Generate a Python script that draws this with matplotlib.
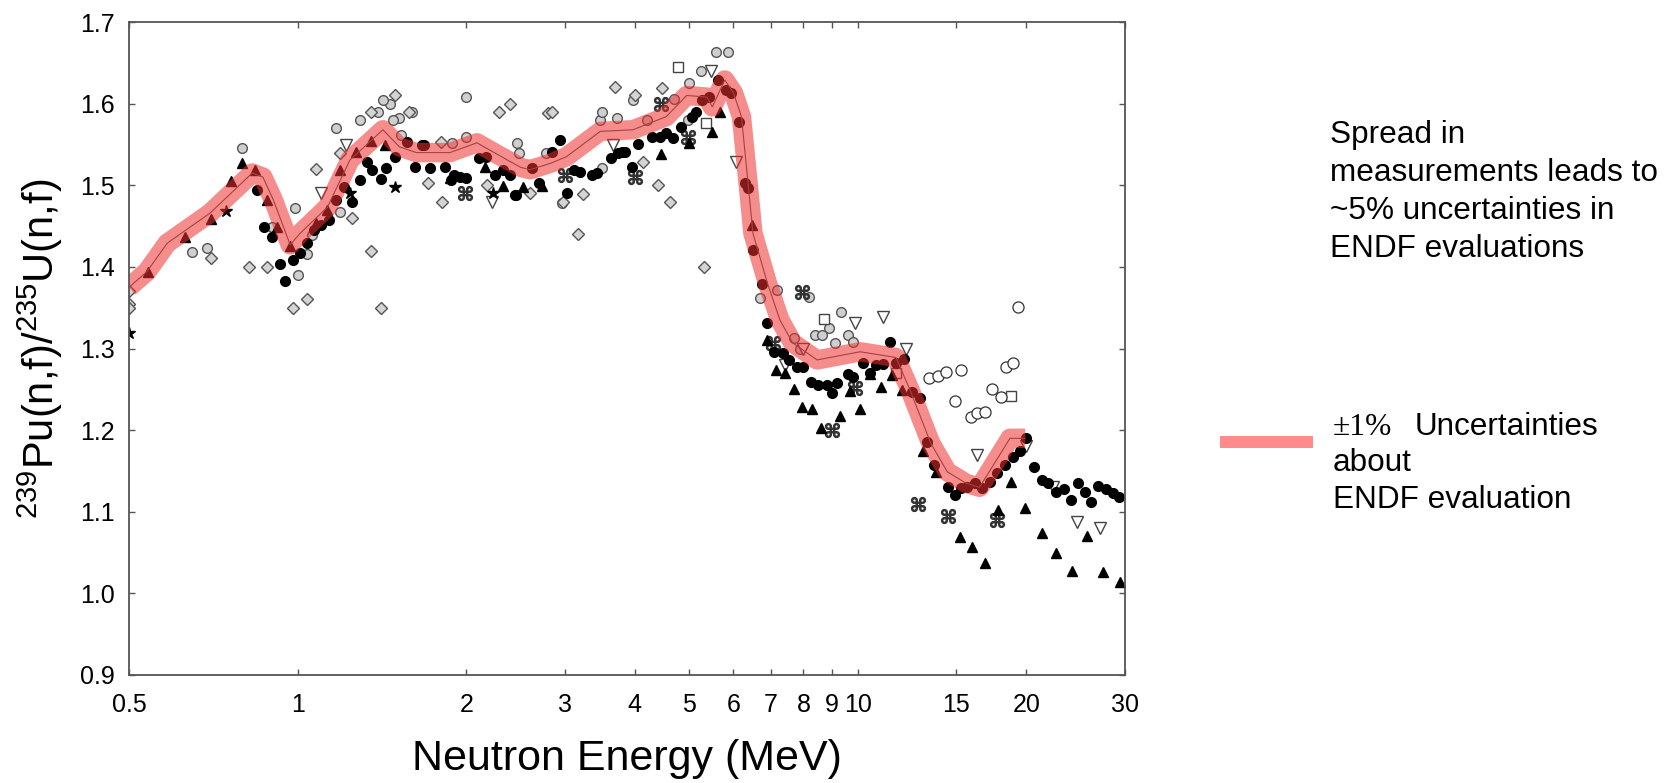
# Pu-239 / U-235 fission cross section ratio vs neutron energy, with ENDF band

import matplotlib
matplotlib.use("Agg")
import matplotlib.pyplot as plt
from matplotlib.lines import Line2D

plt.rcParams['font.family'] = ['Liberation Sans', 'DejaVu Sans']
plt.rcParams['mathtext.fontset'] = 'custom'
plt.rcParams['mathtext.rm'] = 'Liberation Sans'
plt.rcParams['mathtext.it'] = 'Liberation Sans:italic'

# ENDF evaluation curve (MeV, ratio)
eval_e = [0.5, 0.538, 0.585, 0.698, 0.83, 0.867, 0.905, 0.97, 1.01, 1.13, 1.24, 1.42, 1.52,
          1.63, 1.87, 2.09, 2.23, 2.5, 2.6, 2.83, 3.02, 3.47, 3.97, 4.55, 4.95, 5.38, 5.5,
          5.79, 6.0, 6.2, 6.37, 6.5, 6.9, 7.26, 7.65, 8.46, 10.1, 11.7, 12.4, 13.5, 14.45,
          15.6, 16.5, 18.7, 19.9]
eval_v = [1.375, 1.394, 1.429, 1.466, 1.515, 1.51, 1.482, 1.427, 1.441, 1.473, 1.531, 1.568,
          1.547, 1.54, 1.54, 1.552, 1.541, 1.522, 1.519, 1.527, 1.535, 1.566, 1.568, 1.584,
          1.61, 1.608, 1.596, 1.629, 1.613, 1.584, 1.503, 1.441, 1.38, 1.335, 1.307, 1.286,
          1.296, 1.289, 1.249, 1.184, 1.149, 1.135, 1.13, 1.19, 1.19]

# filled circles
circ_e = [0.846, 0.87, 0.9, 0.93, 0.95, 0.98, 1.01, 1.04, 1.07, 1.1, 1.14, 1.17, 1.21, 1.25,
          1.29, 1.33, 1.36, 1.41, 1.44, 1.49, 1.57, 1.62, 1.67, 1.68, 1.72, 1.83, 1.88, 1.9,
          1.95, 2.0, 2.11, 2.17, 2.25, 2.33, 2.39, 2.44, 2.45, 2.62, 2.7, 2.85, 2.94, 3.03,
          3.11, 3.19, 3.36, 3.43, 3.62, 3.73, 3.79, 3.84, 3.95, 4.05, 4.3, 4.43, 4.55, 4.67,
          4.84, 5.05, 5.15, 5.27, 5.42, 5.63, 5.83, 5.94, 6.13, 6.3, 6.37, 6.5, 6.74, 6.9,
          7.1, 7.35, 7.55, 7.8, 8.0, 8.25, 8.5, 8.8, 9.0, 9.2, 9.6, 9.8, 10.2, 10.5, 10.8,
          11.1, 11.4, 11.7, 12.1, 12.5, 12.9, 13.3, 13.7, 14.5, 14.9, 15.3, 15.7, 16.2, 16.7,
          17.2, 17.7, 18.3, 18.9, 19.5, 20.0, 20.6, 21.3, 21.9, 22.6, 23.3, 24.0, 24.7, 25.4,
          26.1, 26.9, 27.8, 28.5, 29.3]
circ_v = [1.494, 1.449, 1.437, 1.403, 1.383, 1.408, 1.417, 1.429, 1.445, 1.451, 1.457, 1.482,
          1.498, 1.479, 1.506, 1.528, 1.519, 1.508, 1.521, 1.535, 1.553, 1.522, 1.549, 1.549,
          1.521, 1.522, 1.506, 1.512, 1.51, 1.509, 1.533, 1.535, 1.512, 1.519, 1.512, 1.488,
          1.488, 1.521, 1.503, 1.541, 1.555, 1.49, 1.519, 1.516, 1.512, 1.515, 1.533, 1.539,
          1.541, 1.541, 1.522, 1.551, 1.559, 1.559, 1.564, 1.558, 1.571, 1.584, 1.59, 1.604,
          1.608, 1.629, 1.617, 1.613, 1.577, 1.503, 1.497, 1.421, 1.379, 1.331, 1.296, 1.294,
          1.286, 1.277, 1.277, 1.259, 1.255, 1.255, 1.245, 1.258, 1.269, 1.265, 1.282, 1.27,
          1.28, 1.281, 1.308, 1.282, 1.287, 1.247, 1.239, 1.185, 1.157, 1.13, 1.12, 1.129,
          1.13, 1.135, 1.129, 1.136, 1.147, 1.157, 1.167, 1.175, 1.19, 1.155, 1.139, 1.135,
          1.124, 1.128, 1.115, 1.135, 1.124, 1.112, 1.131, 1.128, 1.123, 1.118]

# filled triangles
tri_e = [0.54, 0.63, 0.7, 0.76, 0.794, 0.84, 0.88, 0.92, 0.97, 1.08, 1.13, 1.19, 1.27, 1.35,
         1.43, 1.87, 2.16, 2.33, 2.53, 2.73, 4.46, 4.99, 5.5, 5.67, 6.47, 6.9, 7.15, 7.4, 7.7,
         7.96, 8.3, 8.6, 9.3, 9.7, 10.1, 10.5, 11.0, 11.5, 12.0, 13.1, 13.8, 15.2, 16.0, 16.9,
         17.8, 18.8, 19.9, 21.3, 22.6, 24.1, 25.7, 27.4, 29.4]
tri_v = [1.394, 1.437, 1.459, 1.505, 1.527, 1.519, 1.482, 1.449, 1.425, 1.454, 1.47, 1.519,
         1.541, 1.554, 1.549, 1.509, 1.522, 1.499, 1.498, 1.499, 1.538, 1.552, 1.565, 1.59,
         1.451, 1.311, 1.274, 1.27, 1.25, 1.228, 1.226, 1.202, 1.217, 1.248, 1.226, 1.269,
         1.253, 1.267, 1.249, 1.175, 1.149, 1.069, 1.057, 1.037, 1.102, 1.136, 1.104, 1.074,
         1.049, 1.028, 1.07, 1.026, 1.014]

# grey patterned diamonds
dia_e = [0.5, 0.5, 0.5, 0.7, 0.82, 0.88, 0.98, 1.04, 1.08, 1.25, 1.35, 1.41, 1.19, 1.49, 1.35,
         1.58, 1.71, 1.81, 2.18, 2.29, 2.39, 2.6, 2.8, 3.16, 3.23, 3.68, 4.0, 4.48, 4.13, 4.4,
         4.62, 5.32, 1.8, 2.85, 2.98]
dia_v = [1.37, 1.355, 1.35, 1.411, 1.40, 1.40, 1.35, 1.361, 1.52, 1.46, 1.419, 1.35, 1.54,
         1.61, 1.59, 1.59, 1.503, 1.479, 1.5, 1.59, 1.6, 1.49, 1.588, 1.44, 1.489, 1.62, 1.61,
         1.619, 1.529, 1.5, 1.48, 1.4, 1.553, 1.59, 1.48]

# grey patterned circles
gcirc_e = [0.795, 0.647, 0.69, 0.99, 0.9, 1.06, 1.04, 1.0, 1.19, 1.17, 1.46, 1.42, 1.29, 1.39,
           1.52, 1.48, 1.53, 1.6, 1.89, 2.0, 2.0, 2.46, 2.48, 2.78, 2.97, 3.5, 3.47, 3.5,
           3.72, 3.97, 4.2, 4.7, 5.0, 5.25, 5.58, 5.86, 4.97, 7.18, 8.17, 9.33, 8.9, 8.4,
           8.65, 9.1, 9.6, 9.8, 6.7, 7.7, 7.9]
gcirc_v = [1.546, 1.418, 1.423, 1.472, 1.449, 1.439, 1.416, 1.39, 1.467, 1.57, 1.6, 1.604,
           1.58, 1.59, 1.582, 1.58, 1.561, 1.59, 1.552, 1.559, 1.608, 1.552, 1.54, 1.54, 1.478,
           1.521, 1.58, 1.59, 1.582, 1.605, 1.58, 1.606, 1.625, 1.64, 1.663, 1.663, 1.58,
           1.372, 1.363, 1.345, 1.325, 1.316, 1.316, 1.307, 1.316, 1.308, 1.362, 1.313, 1.30]

# open down triangles
dtri_e = [1.1, 1.22, 2.22, 3.65, 5.47, 6.06, 9.9, 11.1, 12.2, 8.0, 7.4, 16.3, 20.0, 22.3,
          24.6, 27.1]
dtri_v = [1.49, 1.549, 1.48, 1.549, 1.64, 1.528, 1.331, 1.339, 1.299, 1.30, 1.28, 1.169, 1.18,
          1.13, 1.088, 1.08]

# stars
star_e = [0.5, 0.745, 1.24, 1.49, 2.23]
star_v = [1.319, 1.468, 1.49, 1.498, 1.49]

# "place of interest" markers
poi_e = [1.99, 3.0, 4.0, 4.46, 4.97, 7.95, 7.05, 9.9, 9.0, 12.8, 14.5, 17.7]
poi_v = [1.49, 1.512, 1.51, 1.6, 1.559, 1.369, 1.307, 1.252, 1.2, 1.11, 1.095, 1.09]

# open squares
sq_e = [5.37, 4.77, 8.7, 11.7, 18.8]
sq_v = [1.576, 1.645, 1.336, 1.27, 1.242]

# open circles (high energy set)
ocirc_e = [13.4, 13.9, 14.4, 15.3, 14.9, 15.9, 16.3, 16.9, 17.4, 18.0, 18.4, 18.9, 19.3]
ocirc_v = [1.264, 1.266, 1.271, 1.274, 1.236, 1.216, 1.221, 1.222, 1.25, 1.24, 1.277, 1.282,
           1.351]

xticks = [0.5, 1, 2, 3, 4, 5, 6, 7, 8, 9, 10, 15, 20, 30]
xtick_labels = ['0.5', '1', '2', '3', '4', '5', '6', '7', '8', '9', '10', '15', '20', '30']
yticks = [0.9, 1.0, 1.1, 1.2, 1.3, 1.4, 1.5, 1.6, 1.7]

fig = plt.figure(figsize=(16.76, 7.83), dpi=100)
ax = fig.add_axes([129 / 1676, 108 / 783, 996 / 1676, 653 / 783])

ax.plot(gcirc_e, gcirc_v, 'o', ms=7, mfc='#cfcfcf', mec='#555555', mew=1.0)
ax.plot(dia_e, dia_v, 'D', ms=6, mfc='#d4d4d4', mec='#555555', mew=1.0)
ax.plot(dtri_e, dtri_v, 'v', ms=8, mfc='white', mec='#444444', mew=1.0)
ax.plot(sq_e, sq_v, 's', ms=7, mfc='white', mec='#444444', mew=1.0)
ax.plot(ocirc_e, ocirc_v, 'o', ms=8, mfc='white', mec='#333333', mew=0.9)
ax.plot(poi_e, poi_v, ls='none', marker='$\u2318$', ms=10, color='#333333')
ax.plot(star_e, star_v, '*', ms=9, color='black')
ax.plot(tri_e, tri_v, '^', ms=7, color='black')
ax.plot(circ_e, circ_v, 'o', ms=7, color='black')

# evaluation line and the +-1% band on top of it
ax.plot(eval_e, eval_v, '-', color='#555555', lw=0.8)
ax.plot(eval_e, eval_v, '-', color='#f03030', alpha=0.55, lw=14,
        solid_capstyle='butt', solid_joinstyle='round')

ax.set_xscale('log')
ax.set_xlim(0.5, 30)
ax.set_ylim(0.9, 1.7)
ax.set_xticks(xticks)
ax.set_xticklabels(xtick_labels)
ax.xaxis.set_minor_locator(plt.NullLocator())
ax.set_yticks(yticks)
ax.set_yticklabels(['%.1f' % v for v in yticks])

ax.tick_params(axis='both', which='major', direction='in', length=4, width=1,
               color='#555555', labelsize=18, top=True, right=True)
ax.tick_params(axis='x', pad=13)
ax.tick_params(axis='y', pad=10)
for sp in ax.spines.values():
    sp.set_color('#555555')
    sp.set_linewidth(1.3)

ax.set_xlabel('Neutron Energy (MeV)', fontsize=31)
ax.xaxis.set_label_coords(0.5, -0.098)
ax.set_ylabel(r'$^{239}$Pu(n,f)/$^{235}$U(n,f)', fontsize=30)
ax.yaxis.set_label_coords(-0.064, 0.5)

# annotations on the right
W, H = 1676.0, 783.0
fs = 22.7
lines1 = ['Spread in', 'measurements leads to', '~5% uncertainties in', 'ENDF evaluations']
for k, s in enumerate(lines1):
    fig.text(1330 / W, 1 - (143 + 38 * k) / H, s, fontsize=fs, va='baseline', ha='left')

fig.text(1333 / W, 1 - 435 / H, '\u00b11%', fontsize=fs, va='baseline', ha='left',
         family=['Liberation Serif', 'DejaVu Serif'])
fig.text(1415 / W, 1 - 435 / H, 'Uncertainties', fontsize=fs, va='baseline', ha='left')
fig.text(1333 / W, 1 - 471 / H, 'about', fontsize=fs, va='baseline', ha='left')
fig.text(1333 / W, 1 - 508 / H, 'ENDF evaluation', fontsize=fs, va='baseline', ha='left')

fig.add_artist(Line2D([1220 / W, 1313 / W], [1 - 442 / H, 1 - 442 / H],
                      transform=fig.transFigure, color='#ff8a8a', lw=8.6,
                      solid_capstyle='butt'))

fig.savefig('out.png', dpi=100)
